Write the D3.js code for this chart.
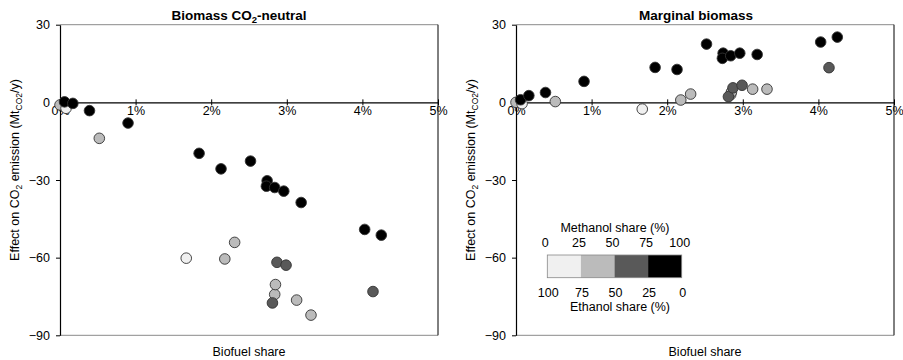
<!DOCTYPE html>
<html>
<head>
<meta charset="utf-8">
<script src="https://cdn.jsdelivr.net/npm/d3@7"></script>
<style>
  body { margin: 0; background: #fff; }
  svg { font-family: "Liberation Sans", Arial, sans-serif; }
  .axis text { font-size: 12.5px; fill: #000; }
  .axis path, .axis line { stroke: #000; }
</style>
</head>
<body>
<svg></svg>
<script>
// biofuel share (fraction), methanol share class, effect on CO2 emission (Mt/y) per scenario
const biofuelShare = [0.0000, 0.0008, 0.0006, 0.0017, 0.0039, 0.0090, 0.0052, 0.0167, 0.0184, 0.0213,
                      0.0218, 0.0231, 0.0252, 0.0274, 0.0273, 0.0284, 0.0296, 0.0319, 0.0284, 0.0285,
                      0.0281, 0.0287, 0.0299, 0.0313, 0.0332, 0.0403, 0.0425, 0.0414];
const methanolClass = ["25-50", "0-25", "75-100", "75-100", "75-100", "75-100", "25-50", "0-25", "75-100", "75-100",
                       "25-50", "25-50", "75-100", "75-100", "75-100", "75-100", "75-100", "75-100", "25-50", "25-50",
                       "50-75", "50-75", "50-75", "25-50", "25-50", "75-100", "75-100", "50-75"];
const co2Neutral = [-1.0, -2.3, 0.2, -0.4, -3.2, -8.0, -13.9, -60.2, -19.7, -25.7,
                    -60.5, -54.1, -22.7, -30.3, -32.4, -32.9, -34.3, -38.7, -74.2, -70.4,
                    -77.5, -61.8, -62.9, -76.4, -82.2, -49.1, -51.3, -73.1];
const co2Marginal = [0.0, -0.5, 1.0, 2.6, 3.8, 8.1, 0.3, -2.6, 13.5, 12.7,
                     0.9, 3.2, 22.5, 19.0, 17.0, 18.0, 19.0, 18.5, 3.0, 4.0,
                     2.2, 5.6, 6.6, 5.1, 5.1, 23.3, 25.2, 13.4];

const classes = ["0-25", "25-50", "50-75", "75-100"];
const classColors = ["#f0f0f0", "#bbbbbb", "#595959", "#000000"];
const methanolTicks = ["0", "25", "50", "75", "100"];
const ethanolTicks = ["100", "75", "50", "25", "0"];
const xTicks = [0, 0.01, 0.02, 0.03, 0.04, 0.05];
const yTicks = [-90, -60, -30, 0, 30];

const width = 903, height = 360;
const svg = d3.select("svg").attr("width", width).attr("height", height);

const color = d3.scaleOrdinal().domain(classes).range(classColors);
const y = d3.scaleLinear().domain([-90, 30]).range([335.3, 24.7]);

const rows = biofuelShare.map((d, i) => ({
    share: d, cls: methanolClass[i], neutral: co2Neutral[i], marginal: co2Marginal[i]
}));

function drawPanel(x0, x1, key, title, titleX, labelX) {
    const x = d3.scaleLinear().domain([0, 0.05]).range([x0, x1]);
    const g = svg.append("g");

    // plot area frame
    g.append("line").attr("x1", x0).attr("x2", x1).attr("y1", y(30)).attr("y2", y(30))
        .attr("stroke", "#8a8a8a");
    g.append("line").attr("x1", x0).attr("x2", x1).attr("y1", y(-90)).attr("y2", y(-90))
        .attr("stroke", "#8a8a8a");
    g.append("line").attr("x1", x1).attr("x2", x1).attr("y1", y(30)).attr("y2", y(-90))
        .attr("stroke", "#000");

    // y axis
    g.append("g").attr("class", "axis")
        .attr("transform", `translate(${x0},0)`)
        .call(d3.axisLeft(y).tickValues(yTicks).tickSize(4).tickSizeOuter(0).tickPadding(6))
        .call(a => a.select(".domain").attr("stroke-width", 1.2));

    // x axis at zero
    g.append("g").attr("class", "axis")
        .attr("transform", `translate(0,${y(0)})`)
        .call(d3.axisBottom(x).tickValues(xTicks).tickSize(3).tickSizeOuter(0).tickPadding(1)
            .tickFormat(d3.format(".0%")))
        .call(a => a.selectAll(".tick line").attr("y1", -3).attr("stroke", "#555"))
        .call(a => a.select(".domain").attr("stroke-width", 1.2));

    // points
    g.selectAll("circle").data(rows).join("circle")
        .attr("cx", d => x(d.share))
        .attr("cy", d => y(d[key]))
        .attr("r", 5.3)
        .attr("fill", d => color(d.cls))
        .attr("stroke", "#333")
        .attr("stroke-width", 0.9);

    // title
    const t = svg.append("text").attr("x", titleX).attr("y", 19.5)
        .attr("text-anchor", "middle").attr("font-size", 13.5).attr("font-weight", "bold");
    title(t);

    // x label
    svg.append("text").attr("x", (x0 + x1) / 2).attr("y", 356)
        .attr("text-anchor", "middle").attr("font-size", 12.5).text("Biofuel share");

    // y label
    const yl = svg.append("text")
        .attr("transform", `translate(${labelX},170) rotate(-90)`)
        .attr("text-anchor", "middle").attr("font-size", 12.5);
    yl.append("tspan").text("Effect on CO");
    yl.append("tspan").attr("font-size", 8.5).attr("dy", 3).text("2");
    yl.append("tspan").attr("dy", -3).text(" emission (Mt");
    yl.append("tspan").attr("font-size", 8.5).attr("dy", 3).text("CO2");
    yl.append("tspan").attr("dy", -3).text("/y)");
}

drawPanel(60, 438, "neutral", t => {
    t.append("tspan").text("Biomass CO");
    t.append("tspan").attr("font-size", 9.5).attr("dy", 3).text("2");
    t.append("tspan").attr("dy", -3).text("-neutral");
}, 239, 19);

drawPanel(516, 894, "marginal", t => t.text("Marginal biomass"), 696, 475);

// legend
const lx = d3.scaleLinear().domain([0, 4]).range([547.3, 681.7]);
const legend = svg.append("g");
legend.selectAll("rect").data(classes).join("rect")
    .attr("x", (d, i) => lx(i)).attr("y", 255)
    .attr("width", lx(1) - lx(0)).attr("height", 22.7)
    .attr("fill", d => color(d));
legend.append("rect").attr("x", lx(0)).attr("y", 255)
    .attr("width", lx(4) - lx(0)).attr("height", 22.7)
    .attr("fill", "none").attr("stroke", "#888").attr("stroke-width", 0.8);
legend.selectAll("text.m").data(methanolTicks).join("text").attr("class", "m")
    .attr("x", (d, i) => lx(i) - 2).attr("y", 246.5)
    .attr("text-anchor", "middle").attr("font-size", 12.5).text(d => d);
legend.selectAll("text.e").data(ethanolTicks).join("text").attr("class", "e")
    .attr("x", (d, i) => lx(i) + 1).attr("y", 297)
    .attr("text-anchor", "middle").attr("font-size", 12.5).text(d => d);
legend.append("text").attr("x", 615).attr("y", 232).attr("text-anchor", "middle")
    .attr("font-size", 12.5).text("Methanol share (%)");
legend.append("text").attr("x", 620).attr("y", 311).attr("text-anchor", "middle")
    .attr("font-size", 12.5).text("Ethanol share (%)");
</script>
</body>
</html>
